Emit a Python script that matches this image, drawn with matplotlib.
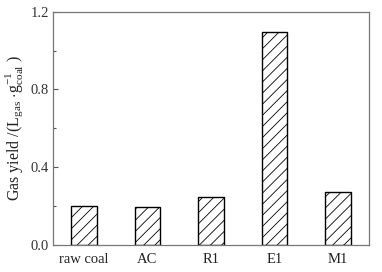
import matplotlib
matplotlib.use("Agg")
import matplotlib.pyplot as plt
from matplotlib.ticker import MultipleLocator

categories = ["raw coal", "AC", "R1", "E1", "M1"]
gas_yield = [0.20, 0.196, 0.246, 1.095, 0.271]

plt.rcParams['font.family'] = ['Liberation Serif', 'DejaVu Serif']
plt.rcParams['mathtext.fontset'] = 'custom'
plt.rcParams['mathtext.rm'] = 'Liberation Serif'
plt.rcParams['mathtext.it'] = 'Liberation Serif'
plt.rcParams['hatch.linewidth'] = 0.6
plt.rcParams['hatch.color'] = '#333333'

fig = plt.figure(figsize=(3.82, 2.72), dpi=100)
ax = fig.add_axes([53/382, 1 - 244.5/272, (369-53)/382, (244.5-12)/272])

x = list(range(len(categories)))
ax.bar(x, gas_yield, width=0.405, facecolor='white', edgecolor='black',
       linewidth=1.0, hatch='///')

ax.set_xlim(-0.49, 4.49)
ax.set_ylim(0, 1.2)
ax.yaxis.set_major_locator(MultipleLocator(0.4))
ax.yaxis.set_minor_locator(MultipleLocator(0.2))
ax.yaxis.set_major_formatter(matplotlib.ticker.FormatStrFormatter('%.1f'))
ax.set_xticks(x)
ax.set_xticklabels(categories)
ax.tick_params(axis='x', length=0, labelsize=10.5, pad=6, labelcolor='#222222')
ax.tick_params(axis='y', which='major', direction='in', length=3.5, width=0.8,
               labelsize=10.5, color='#555555', pad=3, labelcolor='#333333')
ax.tick_params(axis='y', which='minor', direction='in', length=2, width=0.8,
               color='#555555')
for s in ax.spines.values():
    s.set_color('#777777')
    s.set_linewidth(0.9)

ax.set_ylabel(r"Gas yield /(L$_{\mathrm{gas}}$ $\cdot$g$^{-1}_{\mathrm{coal}}$ )",
              fontsize=11.5, labelpad=4, color='#222222')

fig.savefig("out.png", dpi=100)
